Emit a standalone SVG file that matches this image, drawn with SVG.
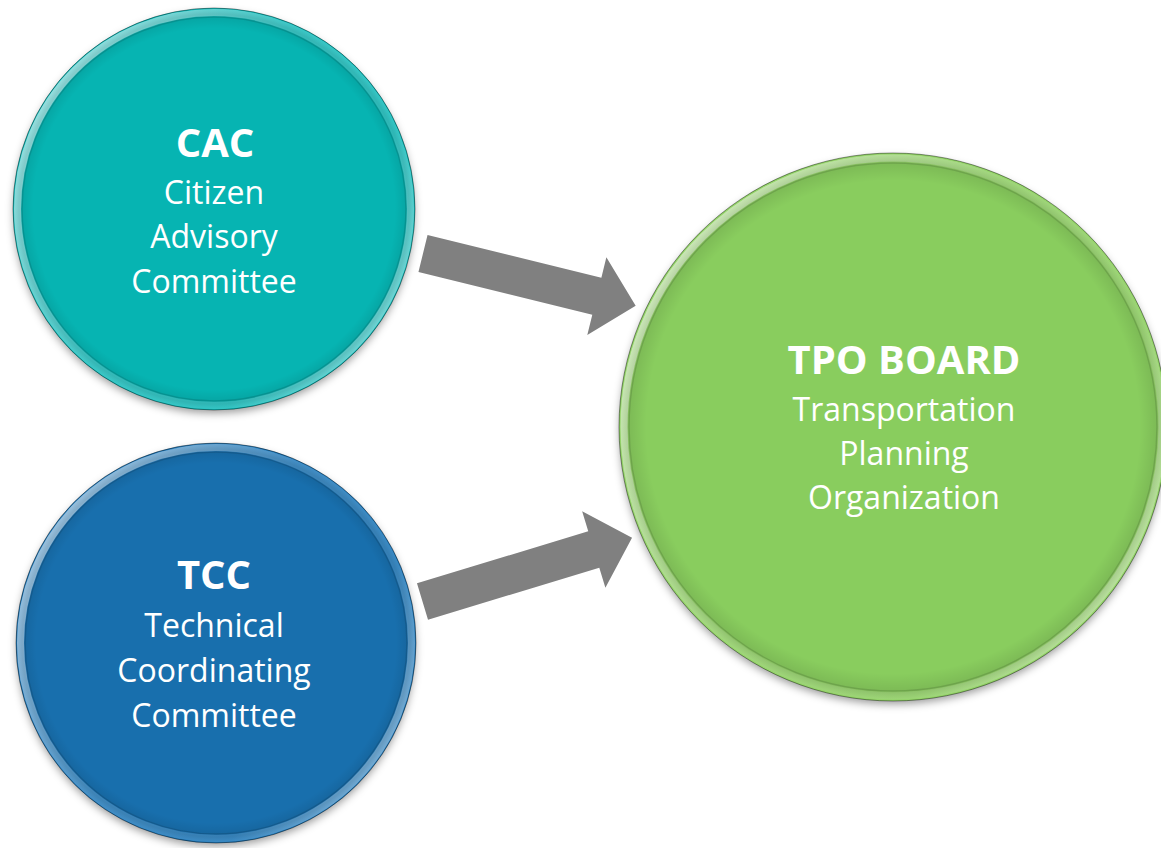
<svg xmlns="http://www.w3.org/2000/svg" width="1161" height="848" viewBox="0 0 1161 848">
  <defs>
    <filter id="shadow" x="-20%" y="-20%" width="140%" height="140%">
      <feGaussianBlur stdDeviation="4"/>
    </filter>
    <linearGradient id="hl" x1="0" y1="0.2" x2="1" y2="0.8">
      <stop offset="0" stop-color="#ffffff" stop-opacity="0.6"/>
      <stop offset="0.45" stop-color="#ffffff" stop-opacity="0.12"/>
      <stop offset="0.75" stop-color="#ffffff" stop-opacity="0.08"/>
      <stop offset="1" stop-color="#ffffff" stop-opacity="0.45"/>
    </linearGradient>
    <radialGradient id="shade" cx="0.5" cy="0.5" r="0.5">
      <stop offset="0.9" stop-color="#000" stop-opacity="0"/>
      <stop offset="0.97" stop-color="#000" stop-opacity="0.1"/>
      <stop offset="1" stop-color="#000" stop-opacity="0"/>
    </radialGradient>
    <path id="arrowShape" d="M0,-19 L179,-19 L179,-40 L219,0 L179,40 L179,19 L0,19 Z"/>
  </defs>
  <style>
    .shadow { fill: #000; fill-opacity: 0.4; filter: url(#shadow); }
    .edge { fill: none; stroke: #000; stroke-opacity: 0.4; stroke-width: 1; }
    .inner { fill: none; stroke: #000; stroke-opacity: 0.12; stroke-width: 1.5; }
    .hl { fill: none; stroke: url(#hl); stroke-width: 7; }
    .title { font-family: "Open Sans", "Noto Sans", sans-serif; font-weight: bold; font-size: 40px; fill: #ffffff; text-anchor: middle; }
    .sub { font-family: "Open Sans", "Noto Sans", sans-serif; font-size: 32px; fill: #ffffff; text-anchor: middle; }
    .arrow { fill: #808080; }
  </style>

  <g id="connectors">
    <use href="#arrowShape" class="arrow" transform="translate(423,253.5) rotate(13.8)"/>
    <use href="#arrowShape" class="arrow" transform="translate(422.5,601.5) rotate(-16.9)"/>
  </g>

  <g id="cac">
    <circle class="shadow" cx="214" cy="213" r="200"/>
    <circle cx="214" cy="209" r="201" fill="#06B4B2"/>
    <circle cx="214" cy="209" r="196.5" fill="none" stroke="#22C4C3" stroke-width="8"/>
    <circle class="hl" cx="214" cy="209" r="196.5"/>
    <circle class="inner" cx="214" cy="209" r="192"/>
    <circle cx="214" cy="209" r="201" fill="url(#shade)"/>
    <circle class="edge" cx="214" cy="209" r="201"/>
    <text class="title" x="215" y="157">CAC</text>
    <text class="sub" x="214" y="204">Citizen</text>
    <text class="sub" x="214" y="248">Advisory</text>
    <text class="sub" x="214" y="293">Committee</text>
  </g>

  <g id="tcc">
    <circle class="shadow" cx="216" cy="647" r="199"/>
    <circle cx="216" cy="643" r="200" fill="#186FAD"/>
    <circle cx="216" cy="643" r="195.5" fill="none" stroke="#2A82C2" stroke-width="8"/>
    <circle class="hl" cx="216" cy="643" r="195.5"/>
    <circle class="inner" cx="216" cy="643" r="191"/>
    <circle cx="216" cy="643" r="200" fill="url(#shade)"/>
    <circle class="edge" cx="216" cy="643" r="200"/>
    <text class="title" x="214" y="589">TCC</text>
    <text class="sub" x="214" y="637">Technical</text>
    <text class="sub" x="214" y="682">Coordinating</text>
    <text class="sub" x="214" y="727">Committee</text>
  </g>

  <g id="tpo">
    <circle class="shadow" cx="893" cy="431" r="273"/>
    <circle cx="893" cy="427" r="274" fill="#89CD5E"/>
    <circle cx="893" cy="427" r="269" fill="none" stroke="#97D66C" stroke-width="9"/>
    <circle class="hl" cx="893" cy="427" r="269"/>
    <circle class="inner" cx="893" cy="427" r="264"/>
    <circle cx="893" cy="427" r="274" fill="url(#shade)"/>
    <circle class="edge" cx="893" cy="427" r="274"/>
    <text class="title" x="904" y="374">TPO BOARD</text>
    <text class="sub" x="904" y="421">Transportation</text>
    <text class="sub" x="904" y="465">Planning</text>
    <text class="sub" x="904" y="509">Organization</text>
  </g>
</svg>
